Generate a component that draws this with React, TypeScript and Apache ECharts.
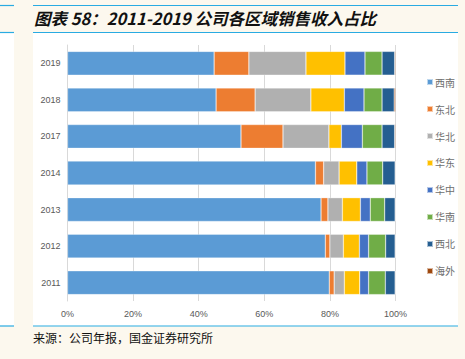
import React, { useEffect, useRef } from "react";
import * as echarts from "echarts";

const years = ["2011", "2012", "2013", "2014", "2017", "2018", "2019"];
const regions = ["西南", "东北", "华北", "华东", "华中", "华南", "西北", "海外"];
const xTicks = ["0%", "20%", "40%", "60%", "80%", "100%"];

// percentages per region, ordered as years above
const xinan = [79.8, 78.6, 77.3, 75.6, 52.9, 45.3, 44.7];
const dongbei = [1.5, 1.4, 2.1, 2.5, 12.8, 11.9, 10.6];
const huabei = [3.1, 4.1, 4.4, 4.7, 14.0, 17.0, 17.4];
const huadong = [4.7, 4.9, 5.5, 5.4, 3.8, 10.2, 11.9];
const huazhong = [2.7, 2.8, 3.0, 3.1, 6.4, 6.0, 6.1];
const huanan = [5.1, 5.2, 4.4, 4.8, 6.0, 5.5, 5.2];
const xibei = [3.0, 2.9, 3.2, 3.8, 3.85, 3.7, 3.85];
const haiwai = [0.1, 0.1, 0.1, 0.1, 0.25, 0.4, 0.25];

const seriesData = [xinan, dongbei, huabei, huadong, huazhong, huanan, xibei, haiwai];
const colors = ["#5B9BD5", "#ED7D31", "#B0B0B0", "#FFC000", "#4472C4", "#70AD47", "#255E91", "#9E480E"];

const title = "图表 58：2011-2019 公司各区域销售收入占比";
const source = "来源：公司年报，国金证券研究所";

export default function App() {
  const ref = useRef<HTMLDivElement>(null);
  useEffect(() => {
    if (!ref.current) return;
    const chart = echarts.init(ref.current, null, { renderer: "svg" });
    const blue = "#29ABE2";
    chart.setOption({
      animation: false,
      backgroundColor: "#FCF8EE",
      graphic: [
        { type: "rect", shape: { x: 33, y: 33, width: 425, height: 293 }, style: { fill: "#FFFFFF" }, z: -10 },
        { type: "rect", shape: { x: 0, y: 33, width: 14, height: 293 }, style: { fill: "#FFFFFF" }, z: -10 },
        { type: "line", shape: { x1: 33, y1: 5.5, x2: 458, y2: 5.5 }, style: { stroke: blue, lineWidth: 1.2 } },
        { type: "line", shape: { x1: 33, y1: 32.5, x2: 458, y2: 32.5 }, style: { stroke: blue, lineWidth: 1.2 } },
        { type: "line", shape: { x1: 33, y1: 326, x2: 458, y2: 326 }, style: { stroke: blue, lineWidth: 1.2 } },
        { type: "line", shape: { x1: 0, y1: 5.5, x2: 14, y2: 5.5 }, style: { stroke: blue, lineWidth: 1.2 } },
        { type: "line", shape: { x1: 0, y1: 32.5, x2: 14, y2: 32.5 }, style: { stroke: blue, lineWidth: 1.2 } },
        { type: "line", shape: { x1: 0, y1: 326, x2: 14, y2: 326 }, style: { stroke: blue, lineWidth: 1.2 } },
        {
          type: "text", left: 34, top: 10,
          style: { text: title, font: "italic bold 16.5px 'Noto Sans CJK SC', Arial, sans-serif", fill: "#111111" },
        },
        {
          type: "text", left: 33, top: 331,
          style: { text: source, font: "12px 'Noto Sans CJK SC', sans-serif", fill: "#111111" },
        },
      ],
      grid: { left: 67.5, right: 69.5, top: 45, bottom: 58 },
      xAxis: {
        type: "value", min: 0, max: 100, interval: 20,
        axisLabel: { formatter: (v: number) => xTicks[v / 20], color: "#595959", fontSize: 9, margin: 8, fontFamily: "Arial" },
        splitLine: { lineStyle: { color: "#D9D9D9", width: 1 } },
        axisLine: { show: false }, axisTick: { show: false },
      },
      yAxis: {
        type: "category", data: years,
        axisLabel: { color: "#595959", fontSize: 9, margin: 7, fontFamily: "Arial" },
        axisLine: { show: true, lineStyle: { color: "#D9D9D9" } },
        axisTick: { show: false },
      },
      legend: {
        orient: "vertical", left: 421, top: 72,
        itemWidth: 6, itemHeight: 6, itemGap: 17, icon: "rect",
        textStyle: { fontSize: 10, color: "#6E6E6E", fontFamily: "'Noto Sans CJK SC'", padding: [0, 0, 0, -3] },
        data: regions,
      },
      series: regions.map((name, i) => ({
        name, type: "bar", stack: "total",
        data: seriesData[i], barWidth: "65%",
        itemStyle: { color: colors[i], borderColor: "rgba(255,255,255,0.6)", borderWidth: 0.5 },
      })),
    });
    return () => chart.dispose();
  }, []);
  return <div ref={ref} style={{ position: "absolute", left: 0, top: 0, width: 465, height: 359 }} />;
}
